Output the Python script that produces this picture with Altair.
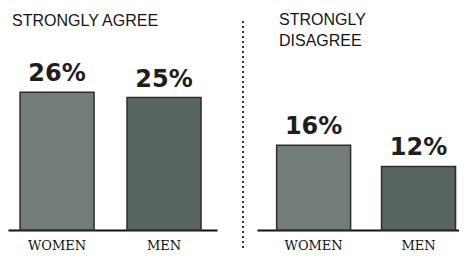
import altair as alt
import pandas as pd

groups = ["WOMEN", "MEN"]
agree_values = [26, 25]
disagree_values = [16, 12]
panel_titles = [["STRONGLY AGREE", "\u00a0"], ["STRONGLY", "DISAGREE"]]
bar_colors = ["#737c78", "#59655f"]

agree_df = pd.DataFrame({"group": groups, "value": agree_values,
                         "label": [f"{v}%" for v in agree_values]})
disagree_df = pd.DataFrame({"group": groups, "value": disagree_values,
                            "label": [f"{v}%" for v in disagree_values]})

Y_MAX = 33.8
H = 179


def panel(df, title, width, pad_inner, pad_outer, align, title_dx, title_offset, divider=False):
    x = alt.X("group:N", sort=groups,
              scale=alt.Scale(paddingInner=pad_inner, paddingOuter=pad_outer, align=align),
              axis=alt.Axis(title=None, labelAngle=0, ticks=False, domainColor="#111111",
                            domainWidth=2, labelPadding=19, labelFont="DejaVu Serif",
                            labelFontSize=13, labelColor="#111111", labelBaseline="alphabetic"))
    y = alt.Y("value:Q", scale=alt.Scale(domain=[0, Y_MAX], nice=False), axis=None)
    base = alt.Chart(df)
    bars = base.mark_bar(stroke="#2a2f2d", strokeWidth=1.5).encode(
        x=x, y=y,
        color=alt.Color("group:N", scale=alt.Scale(domain=groups, range=bar_colors), legend=None),
    )
    labels = base.mark_text(font="DejaVu Sans", fontWeight="bold", fontSize=24,
                            baseline="alphabetic", dy=-11, color="#1e1e1e").encode(
        x=alt.X("group:N", sort=groups), y="value:Q", text="label:N")
    layers = [bars, labels]
    if divider:
        rule = base.mark_rule(color="#333333", strokeWidth=2, strokeDash=[2, 3]).encode(
            x=alt.value(-14), y=alt.value(-30), y2=alt.value(H + 21))
        layers.append(rule)
    return alt.layer(*layers).properties(
        width=width, height=H,
        title=alt.TitleParams(text=title, anchor="start", dx=title_dx, fontSize=16,
                              font="Liberation Sans", fontWeight="normal", color="#161616",
                              lineHeight=21, offset=title_offset),
    )


left = panel(agree_df, panel_titles[0], 209, 0.308, 0.131, 0.43, 4, 1)
right = panel(disagree_df, panel_titles[1], 202, 0.295, 0.11, 0.85, 37, -29, divider=True)

chart = alt.hconcat(left, right, spacing=25).properties(
    padding={"left": 0, "top": 4, "right": 0, "bottom": 0},
    background="white",
).configure_view(stroke=None)

chart.save("out.html", embed_options={"renderer": "svg", "actions": False})
